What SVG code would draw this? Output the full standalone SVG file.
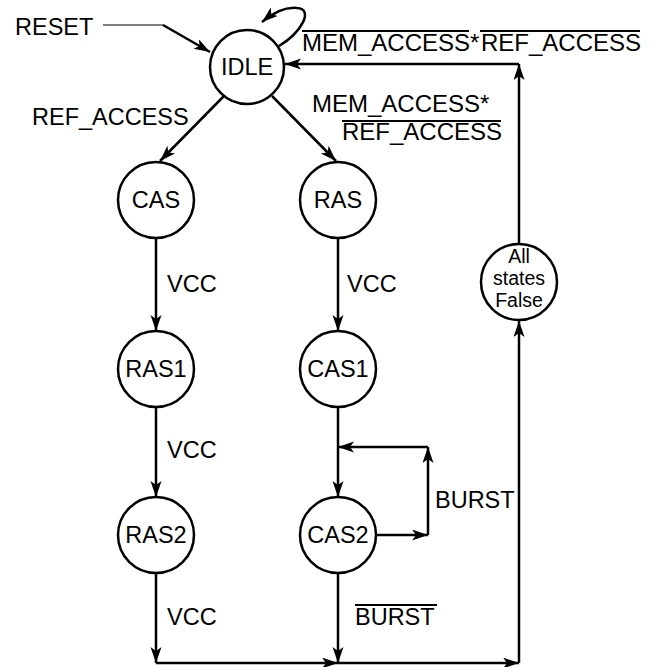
<svg xmlns="http://www.w3.org/2000/svg" width="651" height="667" viewBox="0 0 651 667">
<style>
text{font-family:"Liberation Sans",Arial,sans-serif;font-size:23.5px;fill:#000}
.big{font-size:24px}
.node circle{fill:#fff;stroke:#000;stroke-width:2.5}
.node text{text-anchor:middle}
.node text.small{font-size:19.5px}
.c{fill:none;stroke:#000;stroke-width:2.5}
.thin{fill:none;stroke:#000;stroke-width:1.2}
.ol{stroke:#000;stroke-width:2}
</style>
<defs>
<marker id="ah" markerWidth="17" markerHeight="12" refX="16" refY="5.5" orient="auto" markerUnits="userSpaceOnUse">
<path d="M0,0 L16,5.5 L0,11 L4,5.5 z" fill="#000"/>
</marker>
</defs>
<rect width="651" height="667" fill="#fff"/>
<g id="connectors">
<path class="thin" d="M103,25 L163,25"/>
<path class="c" d="M163,25 L210,52" marker-end="url(#ah)"/>
<path class="c" d="M279,46 C302,32 314,9 297,8 C286,7 274,12 262,22" marker-end="url(#ah)"/>
<path class="c" d="M224,96 L160,161" marker-end="url(#ah)"/>
<path class="c" d="M272,96 L336,161" marker-end="url(#ah)"/>
<path class="c" d="M156,238 L156,331" marker-end="url(#ah)"/>
<path class="c" d="M338,238 L338,331" marker-end="url(#ah)"/>
<path class="c" d="M156,407 L156,497" marker-end="url(#ah)"/>
<path class="c" d="M338,407 L338,497" marker-end="url(#ah)"/>
<path class="c" d="M376,535 L428,535" marker-end="url(#ah)"/>
<path class="c" d="M428,535 L428,447" marker-end="url(#ah)"/>
<path class="c" d="M428,447 L338,447" marker-end="url(#ah)"/>
<path class="c" d="M156,573 L156,663" marker-end="url(#ah)"/>
<path class="c" d="M338,573 L338,663" marker-end="url(#ah)"/>
<path class="c" d="M156,663 L338,663" marker-end="url(#ah)"/>
<path class="c" d="M338,663 L519,663" marker-end="url(#ah)"/>
<path class="c" d="M519,663 L519,321" marker-end="url(#ah)"/>
<path class="c" d="M519,244 L519,64" marker-end="url(#ah)"/>
<path class="c" d="M519,64 L285,64" marker-end="url(#ah)"/>
</g>
<g id="labels">
<text x="15" y="35">RESET</text>
<text class="big" x="302" y="51">MEM_ACCESS*</text>
<line class="ol" x1="302" y1="31" x2="469" y2="31"/>
<text class="big" x="481" y="51">REF_ACCESS</text>
<line class="ol" x1="480" y1="31" x2="640" y2="31"/>
<text x="32" y="125">REF_ACCESS</text>
<text class="big" x="312" y="112">MEM_ACCESS*</text>
<line class="ol" x1="342" y1="121" x2="501" y2="121"/>
<text class="big" x="342" y="140">REF_ACCESS</text>
<text x="167" y="292">VCC</text>
<text x="347" y="292">VCC</text>
<text x="167" y="458">VCC</text>
<text x="435" y="508">BURST</text>
<text x="167" y="625">VCC</text>
<text x="355" y="625">BURST</text>
<line class="ol" x1="355" y1="605" x2="437" y2="605"/>
</g>
<g id="IDLE" class="node"><circle cx="247" cy="67" r="37"/><text x="247" y="75">IDLE</text></g>
<g id="CAS" class="node"><circle cx="156" cy="200" r="38"/><text x="156" y="208">CAS</text></g>
<g id="RAS" class="node"><circle cx="338" cy="200" r="38"/><text x="338" y="208">RAS</text></g>
<g id="RAS1" class="node"><circle cx="156" cy="369" r="38"/><text x="156" y="377">RAS1</text></g>
<g id="CAS1" class="node"><circle cx="338" cy="369" r="38"/><text x="338" y="377">CAS1</text></g>
<g id="RAS2" class="node"><circle cx="156" cy="535" r="38"/><text x="156" y="543">RAS2</text></g>
<g id="CAS2" class="node"><circle cx="338" cy="535" r="38"/><text x="338" y="543">CAS2</text></g>
<g id="ALLFALSE" class="node"><circle cx="519" cy="282" r="38"/>
<text class="small" x="519" y="263">All</text>
<text class="small" x="519" y="285">states</text>
<text class="small" x="519" y="307">False</text></g>
</svg>
